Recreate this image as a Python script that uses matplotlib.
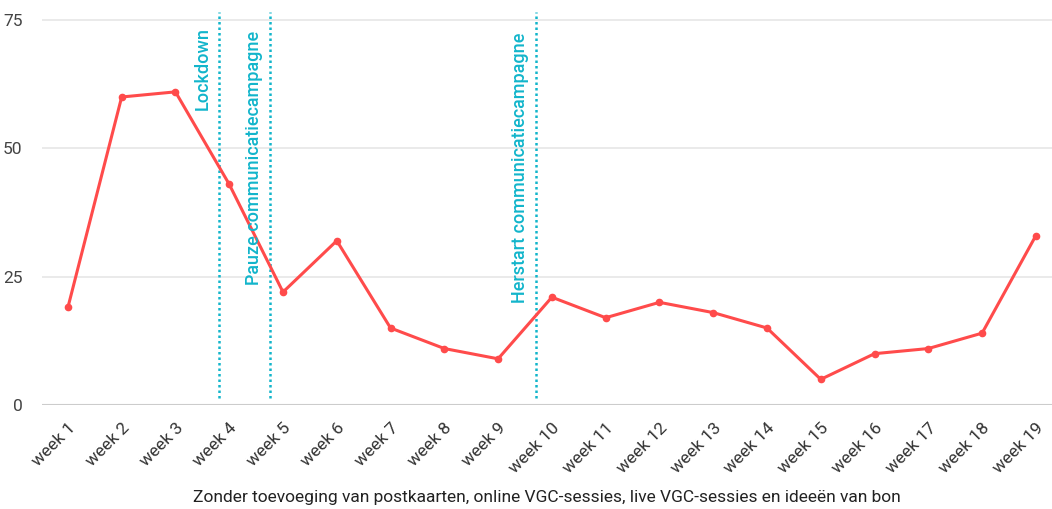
import matplotlib
matplotlib.use("Agg")
import matplotlib.pyplot as plt
import matplotlib.transforms as mtrans

plt.rcParams['font.family'] = ['Roboto', 'DejaVu Sans']

weeks = [f"week {i}" for i in range(1, 20)]
values = [19, 60, 61, 43, 22, 32, 15, 11, 9, 21, 17, 20, 18, 15, 5, 10, 11, 14, 33]
y_ticks = [0, 25, 50, 75]
events = ["Lockdown", "Pauze communicatiecampagne", "Herstart communicatiecampagne"]
event_pos = [2.805, 3.75, 8.71]
x_label = "Zonder toevoeging van postkaarten, online VGC-sessies, live VGC-sessies en ideeën van bon"

red = "#ff4b4b"
cyan = "#12b5cb"

fig = plt.figure(figsize=(10.52, 5.09), dpi=100)
ax = fig.add_axes([0.040, 0.2043, 0.96, 0.7766])

x = list(range(len(weeks)))
ax.plot(x, values, color=red, lw=2.2, marker='o', ms=4.5, zorder=3)

for xp in event_pos:
    ax.vlines(xp, 1.4, 76.6, colors=cyan, linestyles=(0, (1, 1.2)), lw=1.8, zorder=2)

text_x = [2.51, 3.47, 8.40]
text_top = [73.6, 72.9, 72.5]
for t, tx, ty in zip(events, text_x, text_top):
    ax.text(tx, ty, t, rotation=90, ha='center', va='top', color=cyan,
            fontsize=13, fontweight='medium')

ax.set_xlim(-0.48, 18.3)
ax.set_ylim(0, 77)
ax.set_yticks(y_ticks)
ax.set_yticklabels([str(v) for v in y_ticks], color="#444444", fontsize=12.5)
ax.set_xticks(x)
ax.set_xticklabels(weeks, rotation=45, ha='right', rotation_mode='anchor', color="#333333", fontsize=12.5)
offset = mtrans.ScaledTranslation(14 / 100, 0, fig.dpi_scale_trans)
for lbl in ax.get_xticklabels():
    lbl.set_transform(lbl.get_transform() + offset)
ax.tick_params(axis='both', length=0)
ax.tick_params(axis='y', pad=14)
ax.tick_params(axis='x', pad=11)
for s in ax.spines.values():
    s.set_visible(False)
for v in y_ticks[1:]:
    ax.axhline(v, color="#e6e6e6", lw=1.2, zorder=0)
ax.axhline(0, color="#cccccc", lw=1.5, zorder=1)
ax.set_xlabel(x_label, fontsize=12.5, color="#222222", labelpad=10)

fig.savefig("out.png", dpi=100)
